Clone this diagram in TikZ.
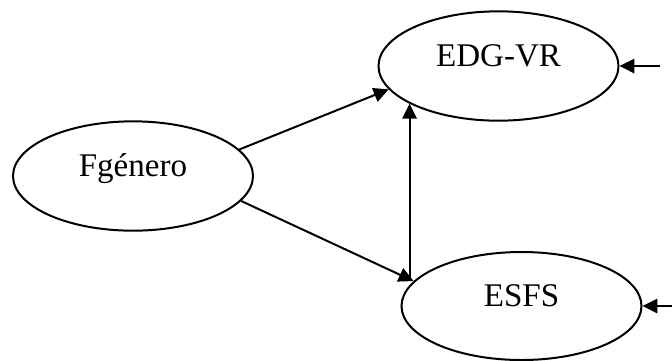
\documentclass[tikz,border=0pt]{standalone}
\usepackage{fontspec}
\setmainfont{Liberation Serif}
\usetikzlibrary{calc,
	positioning,
	shapes,
	arrows.meta}

\begin{document}
\begin{tikzpicture}[x=0.375pt, y=-0.375pt, line width=0.75pt,
	>={Triangle[length=5.6pt,width=5.4pt]},
	oval/.style={draw, ellipse, minimum width=90pt, minimum height=41pt,
		text height=3mm, text depth=3mm, font=\fontsize{12.4}{14}\selectfont}]
	\useasboundingbox (0, 0) rectangle (672, 360);
	\node[oval] (fgen) at (133, 176) {Fgénero};
	\node[oval] (edg) at (498.5, 66) {EDG-VR};
	\node[oval, minimum height=40.5pt] (esfs) at (521.5, 306) {ESFS};
	\draw[->] (fgen.14) -- (edg.192);
	\draw[->] (fgen.-13) -- (esfs.167);
	\draw[->] (edg.203.6 |- esfs.165) -- (edg.203.6);
	\coordinate (inedg) at (660, 66);
	\coordinate (inesfs) at (672, 306);
	\draw[->] (inedg) -- (edg);
	\draw[->] (inesfs) -- (esfs);
\end{tikzpicture}
\end{document}
